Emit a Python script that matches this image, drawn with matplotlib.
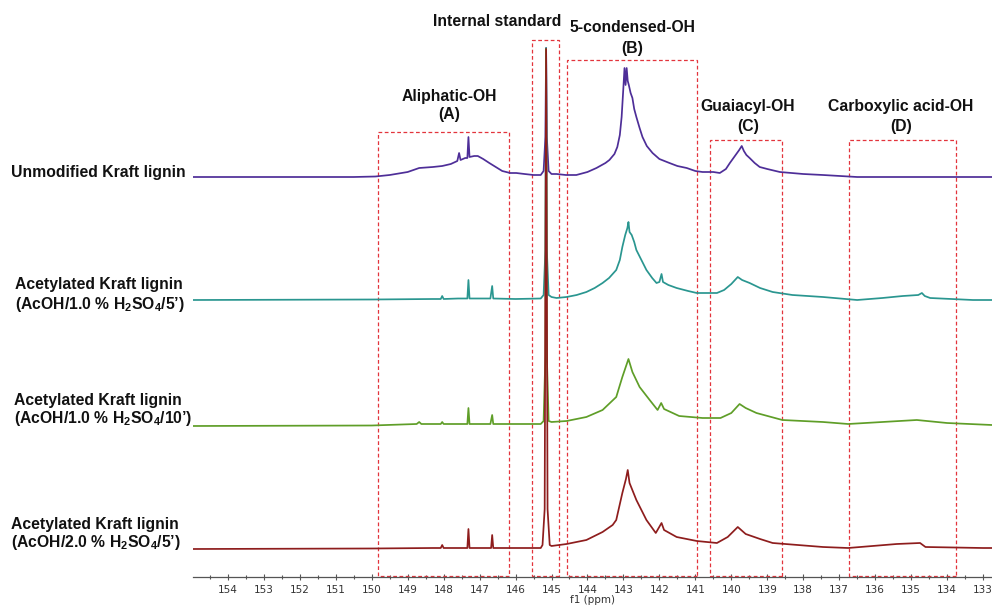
import matplotlib
matplotlib.use("Agg")
import matplotlib.pyplot as plt
from matplotlib.patches import Rectangle
from matplotlib.ticker import MultipleLocator

plt.rcParams['font.family'] = ['Liberation Sans', 'DejaVu Sans']
plt.rcParams['mathtext.fontset'] = 'custom'
plt.rcParams['mathtext.rm'] = 'Liberation Sans:bold'
plt.rcParams['mathtext.it'] = 'Liberation Sans:bold'
plt.rcParams['mathtext.bf'] = 'Liberation Sans:bold'

# --- spectra (ppm, height above own baseline) ---
purple_ppm = [155.0, 150.5, 149.9, 149.5, 149.0, 148.68, 148.3, 148.04, 147.8, 147.62,
              147.57, 147.53, 147.4, 147.34, 147.31, 147.28, 147.15, 147.05, 146.9, 146.73,
              146.55, 146.37, 146.15, 145.98, 145.75, 145.5, 145.3, 145.22, 145.17, 145.15,
              145.13, 145.08, 145.0, 144.86, 144.6, 144.31, 144.0, 143.75, 143.5, 143.39,
              143.25, 143.17, 143.1, 143.05, 143.0, 142.97, 142.94, 142.91, 142.88, 142.85,
              142.8, 142.75, 142.7, 142.64, 142.55, 142.47, 142.35, 142.19, 142.0, 141.72,
              141.5, 141.24, 141.0, 140.8, 140.5, 140.32, 140.15, 140.04, 139.9, 139.78,
              139.71, 139.65, 139.58, 139.49, 139.35, 139.21, 139.0, 138.65, 138.0, 137.45,
              136.5, 132.75]
purple_int = [0, 0, 0.5, 2, 5, 9, 10, 11, 13, 16,
              24, 17, 19, 19, 40, 20, 21, 21, 18, 14,
              10, 6, 4, 4, 3, 2, 2, 6, 40, 129,
              40, 6, 3, 3, 2, 2, 5, 9, 14, 17,
              23, 30, 42, 60, 90, 109, 92, 109, 96, 92,
              84, 79, 68, 60, 49, 40, 31, 24, 18, 14,
              11, 9, 6, 5, 5, 4, 8, 14, 21, 27,
              31, 26, 22, 19, 14, 10, 8, 5, 3, 2,
              0, 0]

teal_ppm = [155.0, 150.0, 148.3, 148.08, 148.04, 148.0, 147.6, 147.34, 147.31, 147.28,
            146.7, 146.65, 146.62, 146.0, 145.3, 145.22, 145.17, 145.15, 145.13, 145.08,
            145.0, 144.86, 144.58, 144.3, 144.03, 143.8, 143.58, 143.4, 143.2, 143.1,
            143.03, 142.95, 142.89, 142.86, 142.83, 142.77, 142.7, 142.64, 142.5, 142.36,
            142.2, 142.08, 142.0, 141.94, 141.9, 141.75, 141.52, 141.2, 140.96, 140.4,
            140.2, 140.0, 139.82, 139.7, 139.49, 139.2, 138.85, 138.3, 137.45, 136.5,
            135.8, 135.23, 134.8, 134.7, 134.62, 134.47, 133.28, 132.75]
teal_int = [0, 0.5, 1, 1, 4, 1, 1.5, 1.5, 20, 1.5,
            1.5, 14, 1.5, 1, 1.5, 5, 50, 252, 50, 5,
            3, 2, 3, 5, 8, 12, 17, 22, 30, 40,
            53, 65, 72, 78, 68, 65, 58, 50, 40, 30,
            22, 17, 18, 26, 18, 15, 12, 9, 7, 7,
            10, 16, 23, 20, 17, 12, 8, 5, 3, 0,
            2, 4, 5, 7, 4, 2, 0, 0]

green_ppm = [155.0, 150.0, 148.75, 148.68, 148.62, 148.3, 148.08, 148.04, 148.0, 147.6,
             147.34, 147.31, 147.28, 146.7, 146.65, 146.62, 146.0, 145.3, 145.22, 145.17,
             145.15, 145.13, 145.08, 145.0, 144.58, 144.03, 143.58, 143.2, 143.03, 142.86,
             142.75, 142.55, 142.27, 142.05, 141.95, 141.87, 141.45, 140.8, 140.3, 140.0,
             139.77, 139.6, 139.3, 138.58, 137.45, 136.75, 135.8, 134.84, 134.0, 132.75]
green_int = [0, 0.5, 2, 4, 2, 2, 2, 4, 2, 2,
             2, 18, 2, 2, 11, 2, 2, 2, 5, 70,
             377, 70, 5, 4, 5, 9, 16, 29, 49, 67,
             54, 39, 26, 16, 23, 17, 10, 8, 8, 13,
             22, 18, 13, 6, 4, 2, 4, 6, 3, 1]

red_ppm = [155.0, 150.0, 148.3, 148.08, 148.04, 148.0, 147.34, 147.31, 147.28, 146.68,
           146.65, 146.62, 145.3, 145.25, 145.19, 145.15, 145.11, 145.05, 145.0, 144.58,
           144.03, 143.58, 143.3, 143.2, 143.03, 142.93, 142.88, 142.83, 142.64, 142.36,
           142.1, 141.94, 141.87, 141.52, 140.96, 140.4, 140.1, 139.82, 139.6, 139.2,
           138.85, 137.45, 136.75, 135.4, 134.75, 134.6, 133.0, 132.75]
red_int = [0, 0.5, 1, 1, 4, 1, 1, 20, 1, 1,
           14, 1, 1, 4, 40, 500, 40, 4, 3, 5,
           9, 17, 24, 29, 56, 70, 79, 66, 49, 29,
           16, 26, 19, 12, 8, 6, 12, 22, 15, 10,
           6, 2, 1, 5, 6, 2, 1, 1]

spectra = [
    (purple_ppm, purple_int, 400, '#4e2e98'),
    (teal_ppm, teal_int, 277, '#2a9690'),
    (green_ppm, green_int, 151, '#5f9e28'),
    (red_ppm, red_int, 28, '#8e1d1d'),
]

# integration regions: ppm from, ppm to, box top
region_left = [149.82, 145.53, 144.58, 140.60, 136.73]
region_right = [146.17, 144.78, 140.96, 138.60, 133.75]
region_top = [445, 537, 517, 437, 437]

W, H = 992, 605
fig = plt.figure(figsize=(W / 100, H / 100), dpi=100)
ax = fig.add_axes([193 / W, 28 / H, 799 / W, 577 / H])
ax.set_xlim(154.97, 132.75)
ax.set_ylim(0, 577)

for ppm, inten, off, col in spectra:
    ax.plot(ppm, [v + off for v in inten], color=col, lw=1.25, zorder=3)

for lo, hi, top in zip(region_left, region_right, region_top):
    ax.add_patch(Rectangle((hi, 1), lo - hi, top - 1, fill=False, ec='#e3343c',
                           lw=0.9, ls=(0, (3, 2)), zorder=2))

for s in ['top', 'left', 'right']:
    ax.spines[s].set_visible(False)
ax.spines['bottom'].set_color('#555555')
ax.spines['bottom'].set_linewidth(0.9)
ax.set_yticks([])
ax.xaxis.set_major_locator(MultipleLocator(1))
ax.xaxis.set_minor_locator(MultipleLocator(0.5))
ax.tick_params(axis='x', which='major', direction='inout', length=5, width=0.8,
               color='#555555', labelsize=7.5, labelcolor='#333333', pad=3)
ax.tick_params(axis='x', which='minor', direction='inout', length=3, width=0.8,
               color='#555555')
for lab in ax.get_xticklabels():
    lab.set_fontfamily('DejaVu Sans')
ax.set_xlabel('f1 (ppm)', fontsize=7.5, color='#333333', labelpad=0,
              fontfamily='DejaVu Sans')


def px_text(x, y, s, ha='center'):
    fig.text(x / W, 1 - y / H, s, ha=ha, va='center', fontsize=11.3,
             fontweight='bold', color='#111111')


# region captions
px_text(497, 22, 'Internal standard')
px_text(632, 28, '5-condensed-OH')
px_text(632, 48, '(B)')
px_text(449, 96, 'Aliphatic-OH')
px_text(449, 115, '(A)')
px_text(748, 107, 'Guaiacyl-OH')
px_text(748, 126, '(C)')
px_text(901, 107, 'Carboxylic acid-OH')
px_text(901, 126, '(D)')

# sample labels
px_text(11, 173, 'Unmodified Kraft lignin', ha='left')
px_text(15, 284, 'Acetylated Kraft lignin', ha='left')
px_text(15, 304, '(AcOH/1.0 % H$_2$SO$_4$/5\u2019)', ha='left')
px_text(14, 400, 'Acetylated Kraft lignin', ha='left')
px_text(14, 419, '(AcOH/1.0 % H$_2$SO$_4$/10\u2019)', ha='left')
px_text(11, 524, 'Acetylated Kraft lignin', ha='left')
px_text(11, 543, '(AcOH/2.0 % H$_2$SO$_4$/5\u2019)', ha='left')

fig.savefig('out.png', dpi=100)
